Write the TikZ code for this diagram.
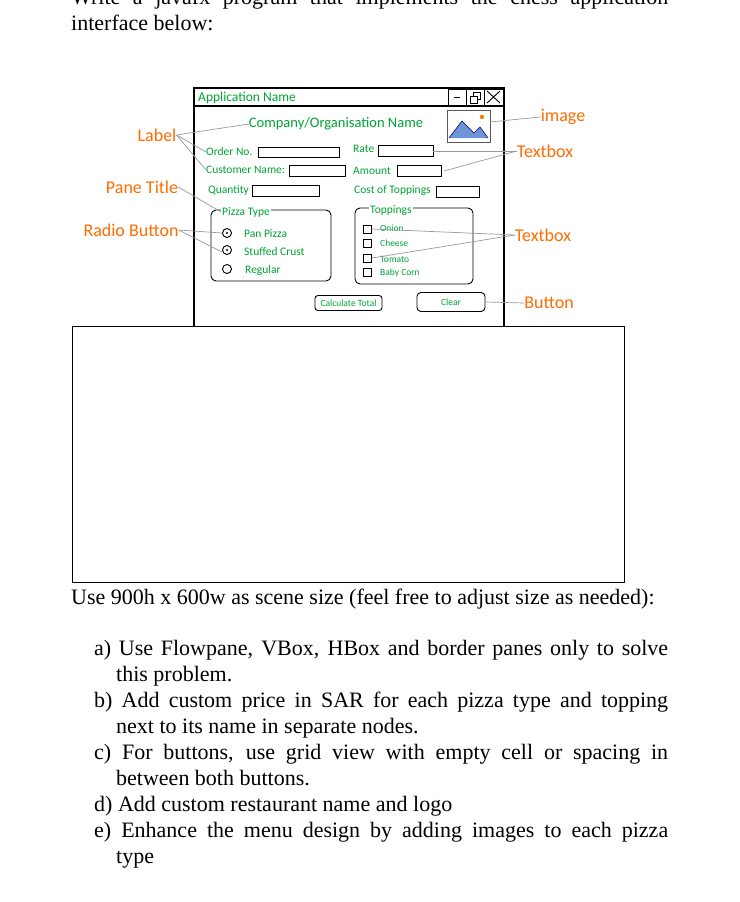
\documentclass[tikz,border=0pt]{standalone}
\usepackage{fontspec}
\setmainfont{Liberation Serif}
\newfontfamily\ui{Carlito}
\begin{document}
\begin{tikzpicture}[x=1pt,y=-1pt,
  gr/.style={text=green!55!black!80!cyan, font=\ui\fontsize{11.5}{12}\selectfont, inner sep=0pt},
  sm/.style={font=\ui\fontsize{9.5}{10}\selectfont},
  org/.style={text=orange!85!red, font=\ui\fontsize{18}{19}\selectfont, inner sep=0pt},
  tb/.style={draw=black, line width=0.9pt},
  ln/.style={draw=gray!80, line width=0.7pt},
  para/.style={anchor=north west, inner sep=0pt, font=\fontsize{22}{26}\selectfont, align=justify}]
\useasboundingbox (0,0) rectangle (739,902);
% header text
\node[para, text width=597] (hdr) at (71,-11) {Write a javafx program that implements the chess application\linebreak interface below:};
% window
\draw[line width=1.3pt] (194,326) -- (194,88) -- (504,88) -- (504,326);
\draw[line width=1.3pt] (194,106) -- (504,106);
\node[gr, anchor=west, font=\ui\fontsize{13.5}{14}\selectfont] (appn) at (198,98) {Application Name};
\draw[tb] (448,89) rectangle (466,105) (466,89) rectangle (484,105) (484,89) rectangle (503,105);
\draw[line width=1pt] (454,97) -- (460,97);
\draw[line width=0.8pt] (470,96) rectangle (477,103) (473,96) -- (473,92) -- (480,92) -- (480,99) -- (477,99);
\draw[line width=0.9pt] (487,91) -- (500,103) (500,91) -- (487,103);
\node[gr, font=\ui\fontsize{14.5}{15}\selectfont] (comp) at (336,124) {Company/Organisation Name};
% image icon
\draw[draw=gray!70!black, line width=0.9pt, fill=white] (447,110) rectangle (490,142);
\fill[cyan!45!blue!60] (449,138) -- (462,121) -- (474,133) -- (480,127) -- (488,138) -- cycle;
\draw[blue!50!black, line width=0.6pt] (449,138) -- (462,121) -- (474,133) -- (480,127) -- (488,138);
\fill[orange] (482,117) circle (2.2);
\coordinate (imgR) at (490,122);
% fields
\node[gr, anchor=west] (ord) at (206,152) {Order No.};
\draw[tb] (258,147) rectangle (339,157);
\node[gr, anchor=west] (cust) at (206,170) {Customer Name:};
\draw[tb] (289,165) rectangle (345,176);
\node[gr, anchor=west] (qty) at (208,190) {Quantity};
\draw[tb] (252,185) rectangle (319,196);
\node[gr, anchor=west] (rate) at (353,149) {Rate};
\draw[tb] (378,145) rectangle (433,156);
\coordinate (rateR) at (433,151);
\node[gr, anchor=west] (amt) at (353,171) {Amount};
\draw[tb] (397,165) rectangle (441,176);
\coordinate (amtR) at (444,171);
\node[gr, anchor=west] (cost) at (354,191) {Cost of Toppings};
\draw[tb] (436,186) rectangle (479,197);
% pizza type
\draw[tb, rounded corners=5] (211,210) rectangle (331,281);
\node[gr, fill=white, inner xsep=1pt, anchor=west] (pt) at (221,212) {Pizza Type};
\foreach \y/\f in {233/1,250/1,269/0}{
  \draw[line width=0.9pt] (227,\y) circle (4.5);
  \ifnum\f=1 \fill (227,\y) circle (1.2); \fi}
\node[gr, anchor=west] (pan) at (244,234) {Pan Pizza};
\node[gr, anchor=west] (stf) at (244,252) {Stuffed Crust};
\node[gr, anchor=west] (reg) at (245,270) {Regular};
% toppings
\draw[tb, rounded corners=5] (355,208) rectangle (473,284);
\node[gr, fill=white, inner xsep=1pt, anchor=west] (top) at (369,211) {Toppings};
\foreach \y in {229,243,258,272}{\draw[line width=0.9pt] (363,\y-4) rectangle (371,\y+4);}
\node[gr, sm, anchor=west] (oni) at (380,228) {Onion};
\node[gr, sm, anchor=west] (che) at (380,243) {Cheese};
\node[gr, sm, anchor=west] (tom) at (380,259) {Tomato};
\node[gr, sm, anchor=west] (bab) at (380,273) {Baby Corn};
% buttons
\node[tb, rounded corners=3, minimum width=67, minimum height=15, gr, sm, draw] (calc) at (348.5,303) {Calculate Total};
\node[tb, rounded corners=4, minimum width=68, minimum height=19, gr, sm, draw] (clr) at (451,302) {Clear};
% annotations
\node[org] (lab) at (157,135) {Label};
\node[org] (pane) at (142,187) {Pane Title};
\node[org] (radio) at (131,230) {Radio Button};
\node[org] (img) at (563,117) {image};
\node[org] (tb1) at (545,151) {Textbox};
\node[org] (tb2) at (543,235) {Textbox};
\node[org] (btn) at (549,303) {Button};
\draw[ln] (lab.east) -- (comp.west);
\draw[ln] (lab.east) -- (ord.west);
\draw[ln] (lab.east) -- (cust.west);
\draw[ln] (pane.east) -- (pt.west);
\draw[ln] (radio.east) -- (222,233);
\draw[ln] (radio.east) -- (222,252);
\draw[ln] (imgR) -- (img.west);
\draw[ln] (rateR) -- (tb1.west);
\draw[ln] (amtR) -- (tb1.west);
\draw[ln] (tb2.west) -- (372,229);
\draw[ln] (tb2.west) -- (372,258);
\draw[ln] (clr.east) -- (btn.west);
% blank box
\draw[line width=0.9pt] (72,326) rectangle (624,582);
% bottom text
\node[para, text width=597] (use) at (71,589) {Use 900h x 600w as scene size (feel free to adjust size as needed):};
\node[para, text width=574] (items) at (94,640) {%
\hangindent=22pt a) Use Flowpane, VBox, HBox and border panes only to solve\linebreak this problem.\par
\hangindent=22pt b) Add custom price in SAR for each pizza type and topping\linebreak next to its name in separate nodes.\par
\hangindent=22pt c) For buttons, use grid view with empty cell or spacing in\linebreak between both buttons.\par
d) Add custom restaurant name and logo\par
\hangindent=22pt e) Enhance the menu design by adding images to each pizza\linebreak type\par};
\end{tikzpicture}
\end{document}
